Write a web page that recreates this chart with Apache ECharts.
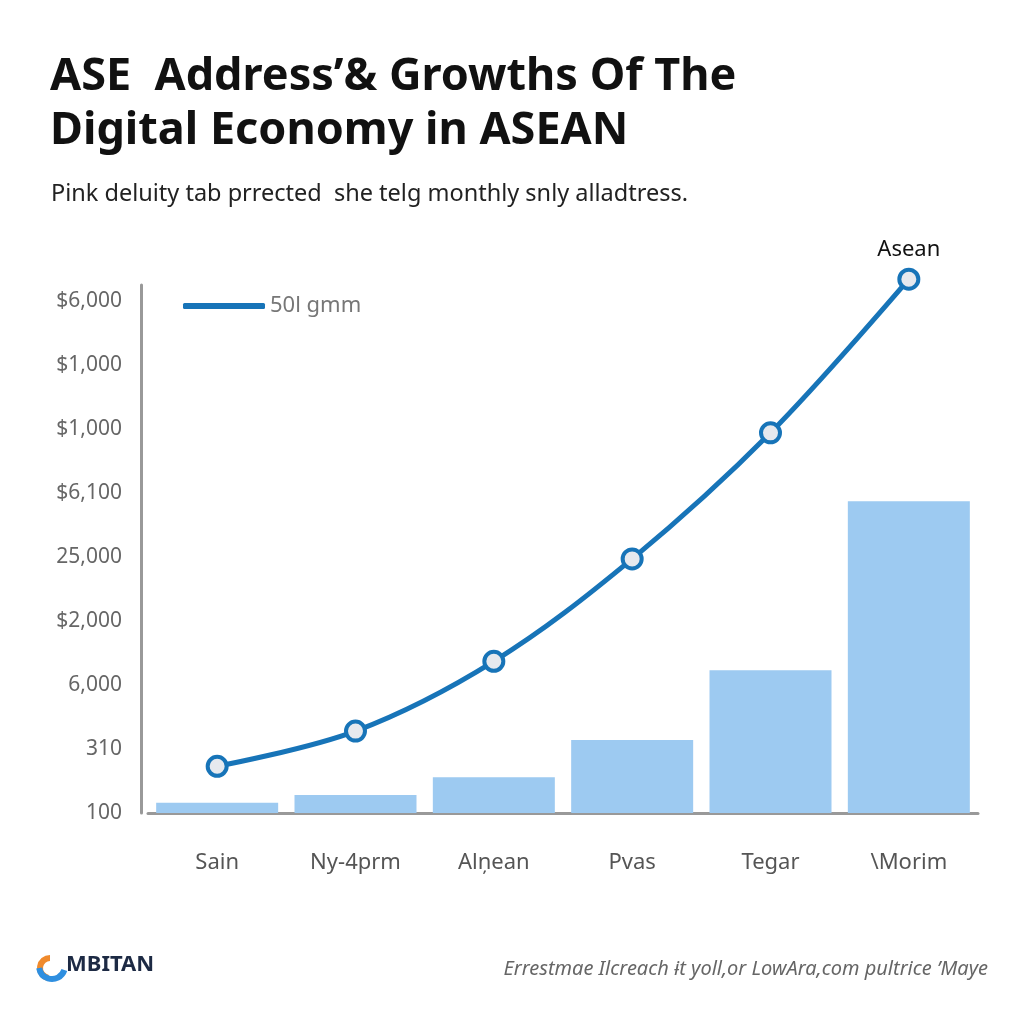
<!DOCTYPE html>
<html>
<head>
<meta charset="utf-8">
<script src="https://cdn.jsdelivr.net/npm/echarts@6/dist/echarts.min.js"></script>
<style>html,body{margin:0;padding:0;background:#fff;}#c{width:1024px;height:1024px;}</style>
</head>
<body>
<div id="c"></div>
<script>
const categories = ['Sain', 'Ny-4prm', 'Alņean', 'Pvas', 'Tegar', '\\Morim'];
const barValues = [0.16, 0.28, 0.56, 1.14, 2.23, 4.87];
const lineValues = [0.73, 1.28, 2.37, 3.97, 5.94, 8.34];
const yTickLabels = ['100', '310', '6,000', '$2,000', '25,000', '$6,100', '$1,000', '$1,000', '$6,000'];
const lineName = '50l gmm';
const endLabel = 'Asean';
const titleText = 'ASE  Address\u2019& Growths Of The\nDigital Economy in ASEAN';
const subtitleText = 'Pink deluity tab prrected  she telg monthly snly alladtress.';
const footerText = 'Errestmae Ilcreach \u0268t yoll,or LowAra,com pultrice \u2019Maye';
const logoText = 'MBITAN';

const chart = echarts.init(document.getElementById('c'));
chart.setOption({
  backgroundColor: '#ffffff',
  animation: false,
  title: [{
    text: titleText,
    left: 45, top: 45,
    textStyle: {fontFamily: 'Noto Sans', fontWeight: 'bold', fontSize: 45, lineHeight: 54, color: '#111'}
  }, {
    text: subtitleText,
    left: 46, top: 177,
    textStyle: {fontFamily: 'Noto Sans', fontWeight: 'normal', fontSize: 23.5, color: '#222'}
  }],
  legend: {
    data: [lineName],
    left: 178, top: 290,
    icon: 'roundRect',
    itemWidth: 82, itemHeight: 6,
    itemGap: 10,
    itemStyle: {color: '#1774b8', borderWidth: 0},
    textStyle: {fontFamily: 'Noto Sans', fontSize: 22, color: '#777'}
  },
  grid: {left: 148, right: 46, top: 285, bottom: 211},
  xAxis: {
    type: 'category',
    data: categories,
    axisLine: {lineStyle: {color: '#999', width: 3}},
    axisTick: {show: false},
    axisLabel: {margin: 39, fontFamily: 'Noto Sans', fontSize: 22, color: '#555'}
  },
  yAxis: {
    type: 'value',
    min: 0, max: 8.25, interval: 1,
    offset: 7,
    axisLine: {show: true, lineStyle: {color: '#999', width: 3}},
    axisTick: {show: false},
    splitLine: {show: false},
    axisLabel: {
      margin: 19,
      fontFamily: 'Noto Sans', fontSize: 21, color: '#666',
      formatter: function (v) { return Number.isInteger(v) ? (yTickLabels[v] || '') : ''; }
    }
  },
  series: [{
    name: 'bars',
    type: 'bar',
    data: barValues,
    barWidth: 122,
    itemStyle: {color: '#9dcaf1'},
    z: 1
  }, {
    name: lineName,
    type: 'line',
    data: lineValues.map(function (v, i) {
      return i === lineValues.length - 1 ? {value: v, label: {show: true, formatter: endLabel, position: 'top', distance: 7, fontFamily: 'Noto Sans', fontSize: 22, color: '#111'}} : v;
    }),
    smooth: 0.35,
    clip: false,
    symbol: 'circle',
    symbolSize: 19,
    lineStyle: {color: '#1774b8', width: 5},
    itemStyle: {color: '#e6e9ee', borderColor: '#1774b8', borderWidth: 4},
    z: 3
  }],
  graphic: [
    {type: 'arc', shape: {cx: 50, cy: 968, r: 10, startAngle: Math.PI * 0.55, endAngle: Math.PI * 1.5}, style: {stroke: '#f08a2c', lineWidth: 6, fill: null}},
    {type: 'arc', shape: {cx: 52, cy: 966, r: 13, startAngle: Math.PI * 0.1, endAngle: Math.PI * 0.95}, style: {stroke: '#2f8fe0', lineWidth: 6, fill: null}},
    {type: 'text', left: 66, top: 954, style: {text: logoText, fontFamily: 'Noto Sans', fontWeight: 'bold', fontSize: 22, fill: '#1d2a44'}},
    {type: 'text', right: 36, top: 959, style: {text: footerText, fontFamily: 'Noto Sans', fontStyle: 'italic', fontSize: 20, fill: '#666'}}
  ]
});
</script>
</body>
</html>
